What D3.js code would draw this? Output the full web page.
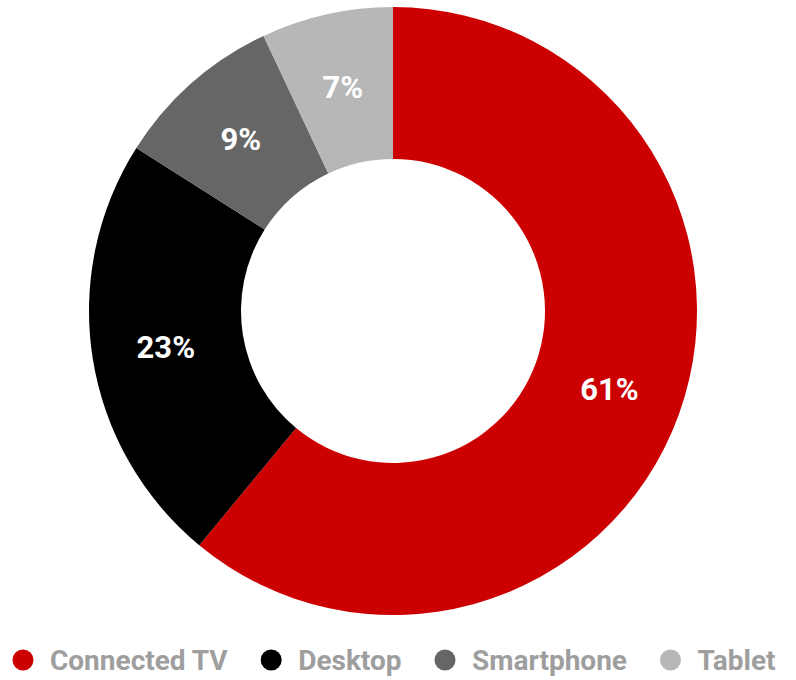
<!DOCTYPE html>
<html>
<head>
<meta charset="utf-8">
<script src="https://cdn.jsdelivr.net/npm/d3@7/dist/d3.min.js"></script>
<style>
  html, body { margin: 0; padding: 0; background: #fff; }
  svg { display: block; }
  text { font-family: Roboto, "Open Sans", sans-serif; font-weight: bold; }
</style>
</head>
<body>
<svg id="chart" width="796" height="680"></svg>
<script>
// Share of viewing by device
const categories = ["Connected TV", "Desktop", "Smartphone", "Tablet"];
const shares = [61, 23, 9, 7];
const colors = ["#cc0000", "#000000", "#666666", "#b7b7b7"];

const svg = d3.select("#chart");
const cx = 393, cy = 311;
const outerR = 304, innerR = 152;

const color = d3.scaleOrdinal().domain(categories).range(colors);

const pie = d3.pie().sort(null).value(d => d.value);
const data = categories.map((c, i) => ({ name: c, value: shares[i] }));
const arcs = pie(data);

const arc = d3.arc().innerRadius(innerR).outerRadius(outerR);
const labelR = 230;
const labelArc = d3.arc().innerRadius(labelR).outerRadius(labelR);

const g = svg.append("g").attr("transform", `translate(${cx},${cy})`);

g.selectAll("path")
  .data(arcs)
  .join("path")
  .attr("d", arc)
  .attr("fill", d => color(d.data.name));

g.selectAll("text.val")
  .data(arcs)
  .join("text")
  .attr("class", "val")
  .attr("transform", d => `translate(${labelArc.centroid(d)})`)
  .attr("text-anchor", "middle")
  .attr("dy", "0.36em")
  .attr("fill", "#ffffff")
  .style("font-size", "31px")
  .text(d => d.data.value + "%");

// Legend along the bottom, centred
const legend = svg.append("g").attr("transform", "translate(0,660)");
const items = legend.selectAll("g.item")
  .data(categories)
  .join("g")
  .attr("class", "item");

items.append("circle")
  .attr("r", 10.5)
  .attr("fill", d => color(d));

items.append("text")
  .attr("x", 27)
  .attr("dy", "0.36em")
  .attr("fill", "#9e9e9e")
  .style("font-size", "28px")
  .text(d => d);

const gap = 33;
const widths = [];
items.each(function () {
  const w = this.querySelector("text").getComputedTextLength();
  widths.push(10.5 + 27 + w);
});
const total = d3.sum(widths) + gap * (widths.length - 1);
let x = 394 - total / 2 + 10.5;
items.attr("transform", (d, i) => {
  const t = `translate(${x},0)`;
  x += widths[i] + gap;
  return t;
});
</script>
</body>
</html>
